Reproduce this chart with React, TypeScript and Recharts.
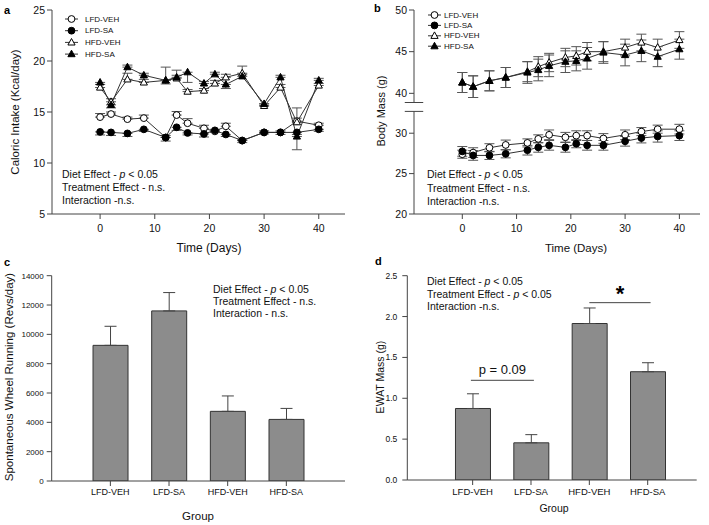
import React from 'react';
import {
  LineChart,
  Line,
  BarChart,
  Bar,
  XAxis,
  YAxis,
  ErrorBar,
  ReferenceLine,
  Legend,
} from 'recharts';

// ---------------------------------------------------------------------------
// Data
// ---------------------------------------------------------------------------

const days = [0, 2, 5, 8, 12, 14, 16, 19, 21, 23, 26, 30, 33, 36, 40];
const groups = ['LFD-VEH', 'LFD-SA', 'HFD-VEH', 'HFD-SA'];

// (a) caloric intake, Kcal/day. Error sign: + drawn upward, - drawn downward
const intakeLfdVeh = [14.5, 14.8, 14.3, 14.4, 12.5, 14.7, 13.9, 13.4, 13.1, 13.6, 12.2, 13.0, 13.0, 14.1, 13.7];
const intakeLfdVehErr = [0.35, 0.2, 0.2, 0.3, 0.2, 0.35, 0.45, 0.3, 0.2, 0.3, 0.15, 0.15, 0.15, 0.3, 0.2];
const intakeLfdSa = [13.05, 13.0, 12.9, 13.3, 12.5, 13.5, 12.95, 12.85, 13.2, 12.8, 12.2, 13.0, 13.0, 13.0, 13.3];
const intakeLfdSaErr = [-0.3, -0.3, -0.3, -0.2, -0.35, -0.3, -0.2, -0.3, -0.2, -0.2, -0.2, -0.15, -0.2, -0.2, -0.2];
const intakeHfdVeh = [17.4, 16.0, 18.2, 17.9, 18.1, 18.3, 17.0, 17.1, 17.8, 18.4, 18.8, 15.6, 17.4, 14.0, 17.6];
const intakeHfdVehErr = [0.3, 0.3, 0.6, 0.3, 1.3, 0.3, 0.2, 0.2, 0.3, 0.3, 0.7, 0.2, 0.3, 1.4, 0.2];
const intakeHfdSa = [17.9, 15.7, 19.4, 18.6, 18.1, 18.4, 18.9, 17.8, 18.7, 17.7, 18.5, 15.8, 18.4, 12.6, 18.1];
const intakeHfdSaErr = [-0.2, -0.3, 0.2, 0.2, -0.35, 0.7, -1.0, 0.2, 0.2, -0.4, 0.2, -0.2, 0.2, -1.3, 0.2];

// (b) body mass, g (symmetric SEM)
const massLfdVeh = [27.4, 27.6, 28.2, 28.55, 28.8, 29.3, 29.8, 29.5, 29.7, 29.7, 29.35, 29.8, 30.2, 30.5, 30.5];
const massLfdVehErr = [0.5, 0.6, 0.5, 0.6, 0.5, 0.5, 0.6, 0.6, 0.6, 0.6, 0.6, 0.6, 0.5, 0.5, 0.6];
const massLfdSa = [27.75, 27.25, 27.25, 27.45, 27.9, 28.25, 28.5, 28.25, 28.7, 28.5, 28.5, 29.0, 29.4, 29.6, 29.7];
const massLfdSaErr = [0.6, 0.6, 0.5, 0.5, 0.6, 0.6, 0.6, 0.6, 0.5, 0.6, 0.6, 0.6, 0.6, 0.7, 0.6];
const massHfdVeh = [41.3, 40.8, 41.5, 41.9, 42.6, 43.2, 43.7, 44.3, 44.5, 45.0, 45.0, 45.5, 46.1, 45.5, 46.4];
const massHfdVehErr = [1.2, 1.3, 1.2, 1.2, 1.2, 1.2, 1.1, 1.1, 1.1, 1.1, 1.2, 1.0, 1.0, 1.0, 1.0];
const massHfdSa = [41.3, 40.8, 41.5, 41.9, 42.5, 42.8, 43.3, 43.8, 43.9, 44.2, 44.9, 44.6, 45.1, 44.4, 45.3];
const massHfdSaErr = [1.2, 1.3, 1.2, 1.2, 1.3, 1.3, 1.3, 1.3, 1.2, 1.3, 1.3, 1.3, 1.3, 1.2, 1.2];

// (c) spontaneous wheel running, revs/day
const wheelRunning = [9250, 11600, 4750, 4200];
const wheelRunningErr = [1300, 1250, 1050, 750];

// (d) EWAT mass, g
const ewatMass = [0.875, 0.455, 1.915, 1.325];
const ewatMassErr = [0.18, 0.1, 0.19, 0.11];

// axis ticks
const dayTicks = [0, 10, 20, 30, 40];
const intakeTicks = [5, 10, 15, 20, 25];
const massUpperTicks = [40, 45, 50];
const massLowerTicks = [20, 25, 30];
const wheelTicks = [0, 2000, 4000, 6000, 8000, 10000, 12000, 14000];
const ewatTicks = [0, 0.5, 1, 1.5, 2, 2.5];

// ---------------------------------------------------------------------------
// Styling
// ---------------------------------------------------------------------------

const FONT = '"Liberation Sans", Arial, Helvetica, sans-serif';
const TEXT = '#111';
const AXIS = '#444';
const LINE = '#333';
const ERR = '#555';
const BAR_FILL = '#8c8c8c';

type Shape = 'circle' | 'triangle';
interface SeriesDef {
  key: string;
  name: string;
  shape: Shape;
  filled: boolean;
}

const SERIES: SeriesDef[] = [
  { key: 'lfdVeh', name: 'LFD-VEH', shape: 'circle', filled: false },
  { key: 'lfdSa', name: 'LFD-SA', shape: 'circle', filled: true },
  { key: 'hfdVeh', name: 'HFD-VEH', shape: 'triangle', filled: false },
  { key: 'hfdSa', name: 'HFD-SA', shape: 'triangle', filled: true },
];

// ---------------------------------------------------------------------------
// Table building
// ---------------------------------------------------------------------------

const signedRange = (e: number) => (e >= 0 ? [0, e] : [-e, 0]);

const intakeRows = days.map((day, i) => ({
  day,
  lfdVeh: intakeLfdVeh[i],
  lfdVehErr: signedRange(intakeLfdVehErr[i]),
  lfdSa: intakeLfdSa[i],
  lfdSaErr: signedRange(intakeLfdSaErr[i]),
  hfdVeh: intakeHfdVeh[i],
  hfdVehErr: signedRange(intakeHfdVehErr[i]),
  hfdSa: intakeHfdSa[i],
  hfdSaErr: signedRange(intakeHfdSaErr[i]),
}));

const massRows = days.map((day, i) => ({
  day,
  lfdVeh: massLfdVeh[i],
  lfdVehErr: massLfdVehErr[i],
  lfdSa: massLfdSa[i],
  lfdSaErr: massLfdSaErr[i],
  hfdVeh: massHfdVeh[i],
  hfdVehErr: massHfdVehErr[i],
  hfdSa: massHfdSa[i],
  hfdSaErr: massHfdSaErr[i],
}));

const wheelRows = groups.map((name, i) => ({
  pos: i + 1,
  name,
  value: wheelRunning[i],
  err: [0, wheelRunningErr[i]],
}));

const ewatRows = groups.map((name, i) => ({
  pos: i + 1,
  name,
  value: ewatMass[i],
  err: [0, ewatMassErr[i]],
}));

// ---------------------------------------------------------------------------
// Marks
// ---------------------------------------------------------------------------

function Marker({ cx, cy, shape, filled }: { cx: number; cy: number; shape: Shape; filled: boolean }) {
  if (cx == null || cy == null) return null;
  const fill = filled ? '#000' : '#fff';
  if (shape === 'circle') {
    return <circle cx={cx} cy={cy} r={3.4} fill={fill} stroke="#000" strokeWidth={1} />;
  }
  return (
    <polygon
      points={`${cx},${cy - 3.9} ${cx + 3.6},${cy + 2.6} ${cx - 3.6},${cy + 2.6}`}
      fill={fill}
      stroke="#000"
      strokeWidth={1}
    />
  );
}

function seriesLines(list: SeriesDef[]) {
  return list.map((s) => (
    <Line
      key={s.key}
      type="linear"
      dataKey={s.key}
      stroke={LINE}
      strokeWidth={1}
      isAnimationActive={false}
      activeDot={false}
      dot={(p: any) => (
        <g key={`${s.key}-${p.index}`}>
          <Marker cx={p.cx} cy={p.cy} shape={s.shape} filled={s.filled} />
        </g>
      )}
    >
      <ErrorBar dataKey={`${s.key}Err`} width={5} stroke={ERR} strokeWidth={1} direction="y" />
    </Line>
  ));
}

function SeriesKey({ rowGap, textX }: { rowGap: number; textX: number }) {
  return (
    <svg width={110} height={rowGap * 4 + 6} style={{ overflow: 'visible' }}>
      {SERIES.map((s, i) => {
        const y = 6 + i * rowGap;
        return (
          <g key={s.key}>
            <line x1={0} x2={13} y1={y} y2={y} stroke={LINE} strokeWidth={1} />
            <Marker cx={6.5} cy={y} shape={s.shape} filled={s.filled} />
            <text x={textX} y={y} dominantBaseline="central" fontSize={8} fill={TEXT} fontFamily={FONT}>
              {s.name}
            </text>
          </g>
        );
      })}
    </svg>
  );
}

// ---------------------------------------------------------------------------
// Free text: panel letters, axis titles, statistics
// ---------------------------------------------------------------------------

function StatLines({ x, y, gap, treatment, interaction }: {
  x: number; y: number; gap: number; treatment: boolean; interaction: string;
}) {
  return (
    <g fontSize={10.5} fill={TEXT}>
      <text x={x} y={y} dominantBaseline="central">
        Diet Effect - <tspan fontStyle="italic">p</tspan> {'< 0.05'}
      </text>
      <text x={x} y={y + gap} dominantBaseline="central">
        {treatment ? (
          <>
            Treatment Effect - <tspan fontStyle="italic">p</tspan> {'< 0.05'}
          </>
        ) : (
          'Treatment Effect - n.s.'
        )}
      </text>
      <text x={x} y={y + gap * 2} dominantBaseline="central">
        {interaction}
      </text>
    </g>
  );
}

function Overlay() {
  const vTitle = (text: string, x: number, y: number, size: number) => (
    <text
      x={x}
      y={y}
      transform={`rotate(-90 ${x} ${y})`}
      textAnchor="middle"
      dominantBaseline="central"
      fontSize={size}
      fill={TEXT}
    >
      {text}
    </text>
  );
  const hTitle = (text: string, x: number, y: number, size: number) => (
    <text x={x} y={y} textAnchor="middle" dominantBaseline="central" fontSize={size} fill={TEXT}>
      {text}
    </text>
  );
  return (
    <svg
      width={709}
      height={525}
      style={{ position: 'absolute', left: 0, top: 0, pointerEvents: 'none' }}
      fontFamily={FONT}
    >
      <g fontWeight="bold" fontSize={11} fill="#000" dominantBaseline="central">
        <text x={4} y={10}>a</text>
        <text x={374} y={8}>b</text>
        <text x={4} y={262}>c</text>
        <text x={375} y={261}>d</text>
      </g>

      {hTitle('Time (Days)', 209, 248, 12)}
      {vTitle('Caloric Intake (Kcal/day)', 15, 112, 11.5)}
      {hTitle('Time (Days)', 576, 248, 11.5)}
      {vTitle('Body Mass (g)', 381, 111, 11)}
      {hTitle('Group', 198, 516, 11.5)}
      {vTitle('Spontaneous Wheel Running (Revs/day)', 9, 377, 11.5)}
      {hTitle('Group', 554, 508, 10.5)}
      {vTitle('EWAT Mass (g)', 380, 377, 10.5)}

      <StatLines x={62} y={174} gap={13} treatment={false} interaction="Interaction -n.s." />
      <StatLines x={427} y={174} gap={13.7} treatment={false} interaction="Interaction -n.s." />
      <StatLines x={213} y={289} gap={12} treatment={false} interaction="Interaction - n.s." />
      <StatLines x={427} y={281} gap={12.6} treatment={true} interaction="Interaction -n.s." />
    </svg>
  );
}

// ---------------------------------------------------------------------------
// App
// ---------------------------------------------------------------------------

const axisTick = (size: number) => ({ fill: TEXT, fontSize: size, fontFamily: FONT });

export default function App() {
  return (
    <div
      style={{
        position: 'absolute',
        left: 0,
        top: 0,
        width: 709,
        height: 525,
        background: '#fff',
        fontFamily: FONT,
        overflow: 'hidden',
      }}
    >
      {/* a: caloric intake */}
      <div style={{ position: 'absolute', left: 0, top: 0 }}>
        <LineChart width={360} height={260} data={intakeRows} margin={{ top: 10, right: 15, bottom: 0, left: 0 }}>
          <XAxis
            type="number"
            dataKey="day"
            domain={[-8.8, 44.8]}
            ticks={dayTicks}
            allowDataOverflow
            height={46}
            tickSize={5}
            tickMargin={6}
            stroke={AXIS}
            tick={axisTick(10.5)}
          />
          <YAxis
            type="number"
            domain={[5, 25]}
            ticks={intakeTicks}
            allowDataOverflow
            width={52}
            tickSize={5}
            stroke={AXIS}
            tick={axisTick(10.5)}
          />
          <Legend
            layout="horizontal"
            verticalAlign="middle"
            align="center"
            wrapperStyle={{ left: 65, top: 13, width: 110 }}
            content={() => <SeriesKey rowGap={11.7} textX={20} />}
          />
          {seriesLines(SERIES)}
        </LineChart>
      </div>

      {/* b: body mass, broken axis - upper (HFD) part */}
      <div style={{ position: 'absolute', left: 350, top: 0 }}>
        <LineChart width={355} height={260} data={massRows} margin={{ top: 10, right: 5, bottom: 157.5, left: 0 }}>
          <XAxis type="number" dataKey="day" domain={[-8.9, 43.8]} allowDataOverflow hide />
          <YAxis
            type="number"
            domain={[38.9, 50]}
            ticks={massUpperTicks}
            allowDataOverflow
            width={64}
            tickSize={5}
            stroke={AXIS}
            tick={axisTick(10.5)}
          />
          <ReferenceLine
            segment={[{ x: -10.6, y: 38.9 }, { x: -7.2, y: 38.9 }]}
            stroke={AXIS}
            ifOverflow="visible"
          />
          <Legend
            layout="horizontal"
            verticalAlign="middle"
            align="center"
            wrapperStyle={{ left: 78, top: 9, width: 110 }}
            content={() => <SeriesKey rowGap={10.4} textX={16} />}
          />
          {seriesLines(SERIES.slice(2))}
        </LineChart>
      </div>

      {/* b: lower (LFD) part */}
      <div style={{ position: 'absolute', left: 350, top: 0 }}>
        <LineChart width={355} height={260} data={massRows} margin={{ top: 111.4, right: 5, bottom: 0, left: 0 }}>
          <XAxis
            type="number"
            dataKey="day"
            domain={[-8.9, 43.8]}
            ticks={dayTicks}
            allowDataOverflow
            height={46}
            tickSize={5}
            tickMargin={6}
            stroke={AXIS}
            tick={axisTick(10.5)}
          />
          <YAxis
            type="number"
            domain={[20, 32.7]}
            ticks={massLowerTicks}
            allowDataOverflow
            width={64}
            tickSize={5}
            stroke={AXIS}
            tick={axisTick(10.5)}
          />
          <ReferenceLine
            segment={[{ x: -10.6, y: 32.7 }, { x: -7.2, y: 32.7 }]}
            stroke={AXIS}
            ifOverflow="visible"
          />
          {seriesLines(SERIES.slice(0, 2))}
        </LineChart>
      </div>

      {/* c: wheel running */}
      <div style={{ position: 'absolute', left: 0, top: 260 }}>
        <BarChart width={360} height={265} data={wheelRows} margin={{ top: 15.7, right: 15, bottom: 0, left: 0 }}>
          <XAxis
            type="number"
            dataKey="pos"
            domain={[0, 5]}
            ticks={[1, 2, 3, 4]}
            tickFormatter={(v: number) => groups[v - 1] ?? ''}
            allowDataOverflow
            height={44}
            tickSize={5}
            tickMargin={3}
            stroke={AXIS}
            tick={axisTick(9)}
          />
          <YAxis
            type="number"
            domain={[0, 14000]}
            ticks={wheelTicks}
            allowDataOverflow
            width={51.7}
            tickSize={5}
            tickMargin={3}
            stroke={AXIS}
            tick={axisTick(8)}
          />
          <Bar dataKey="value" barSize={35} fill={BAR_FILL} stroke="#333" strokeWidth={1} isAnimationActive={false}>
            <ErrorBar dataKey="err" width={6} stroke="#444" strokeWidth={1} direction="y" />
          </Bar>
        </BarChart>
      </div>

      {/* d: EWAT mass */}
      <div style={{ position: 'absolute', left: 350, top: 260 }}>
        <BarChart width={359} height={265} data={ewatRows} margin={{ top: 15.7, right: 12.3, bottom: 0, left: 0 }}>
          <XAxis
            type="number"
            dataKey="pos"
            domain={[-0.12, 4.84]}
            ticks={[1, 2, 3, 4]}
            tickFormatter={(v: number) => groups[v - 1] ?? ''}
            allowDataOverflow
            height={45}
            tickSize={5}
            tickMargin={3}
            stroke={AXIS}
            tick={axisTick(9.5)}
          />
          <YAxis
            type="number"
            domain={[0, 2.5]}
            ticks={ewatTicks}
            tickFormatter={(v: number) => v.toFixed(1)}
            allowDataOverflow
            width={57.3}
            tickSize={5}
            tickMargin={5}
            stroke={AXIS}
            tick={axisTick(8.5)}
          />
          <Bar dataKey="value" barSize={35} fill={BAR_FILL} stroke="#333" strokeWidth={1} isAnimationActive={false}>
            <ErrorBar dataKey="err" width={6} stroke="#444" strokeWidth={1} direction="y" />
          </Bar>
          <ReferenceLine
            segment={[{ x: 0.97, y: 1.22 }, { x: 2.05, y: 1.22 }]}
            stroke={AXIS}
            label={{ value: 'p = 0.09', position: 'top', offset: 6, fontSize: 13, fill: TEXT, fontFamily: FONT }}
          />
          <ReferenceLine
            segment={[{ x: 3, y: 2.17 }, { x: 4.05, y: 2.17 }]}
            stroke={AXIS}
            label={{ value: '*', position: 'top', offset: 2, fontSize: 22, fontWeight: 'bold', fill: '#000', fontFamily: FONT }}
          />
        </BarChart>
      </div>

      <Overlay />
    </div>
  );
}
